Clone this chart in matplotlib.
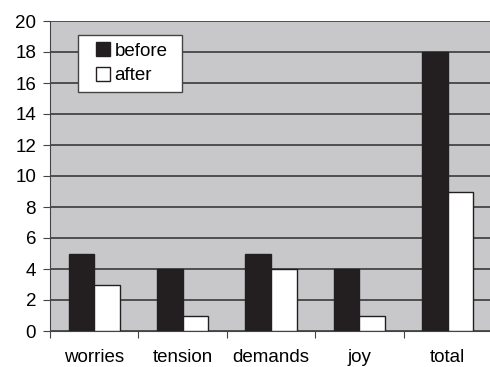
import numpy as np
import matplotlib.pyplot as plt
from matplotlib.lines import Line2D

categories = ["worries", "tension", "demands", "joy", "total"]
before = [5, 4, 5, 4, 18]
after = [3, 1, 4, 1, 9]

plt.rcParams['font.family'] = ['Liberation Sans', 'DejaVu Sans']

fig = plt.figure(figsize=(4.9, 3.67), dpi=100)
ax = fig.add_axes([50 / 490, 36 / 367, 442 / 490, 310 / 367])
ax.set_facecolor('#c8c8ca')

x = np.arange(len(categories))
w = 0.29
ax.bar(x - w / 2, before, w, color='#231f20', edgecolor='#231f20', linewidth=1, zorder=3, label='before')
ax.bar(x + w / 2, after, w, color='white', edgecolor='#231f20', linewidth=1, zorder=3, label='after')

ax.set_ylim(0, 20)
ax.set_yticks(range(0, 21, 2))
ax.set_xlim(-0.5, len(categories) - 0.5)
ax.set_xticks(np.arange(len(categories) + 1) - 0.5)
ax.set_xticklabels([])
ax.set_xticks(x, minor=True)
ax.set_xticklabels(categories, minor=True)
ax.tick_params(axis='x', which='minor', length=0, pad=13, labelsize=13.5)
ax.tick_params(axis='x', which='major', length=5, color='#444444')
ax.tick_params(axis='y', length=5, color='#444444', labelsize=13.5, pad=5)

ax.yaxis.grid(True, color='#3a3a3a', linewidth=1.2, zorder=1)
ax.set_axisbelow(True)
for s in ['top', 'right']:
    ax.spines[s].set_visible(False)
ax.spines['left'].set_color('#444444')
ax.spines['bottom'].set_color('#444444')

handles = [Line2D([], [], linestyle='none', marker='s', markersize=9.5,
                  markerfacecolor='#231f20', markeredgecolor='#231f20', label='before'),
           Line2D([], [], linestyle='none', marker='s', markersize=9.5,
                  markerfacecolor='white', markeredgecolor='#231f20', label='after')]
leg = ax.legend(handles=handles, loc='upper left',
                bbox_to_anchor=(28 / 442, 1 - 68 / 310, 104 / 442, 54 / 310), mode='expand',
                frameon=True, fancybox=False, fontsize=13.5, handlelength=1.9,
                handletextpad=-0.35, borderpad=0.4, labelspacing=0.4, borderaxespad=0)
leg.get_frame().set_edgecolor('#444444')
leg.get_frame().set_facecolor('white')
leg.get_frame().set_alpha(1)
leg.get_frame().set_linewidth(1)

fig.savefig('out.png', dpi=100)
